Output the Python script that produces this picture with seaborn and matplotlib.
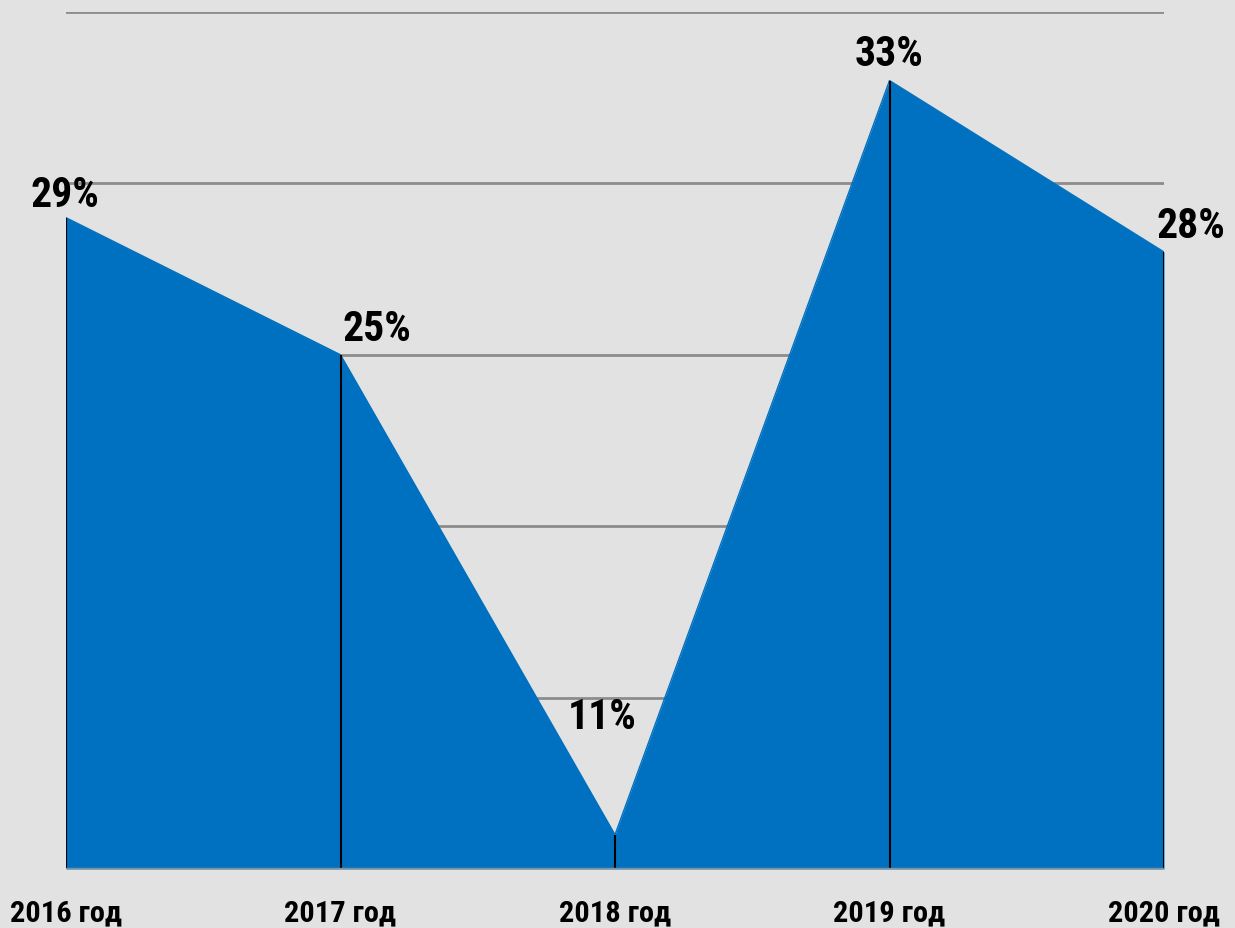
import matplotlib
matplotlib.use('Agg')
import matplotlib.pyplot as plt
import seaborn as sns
import pandas as pd
from matplotlib import font_manager
from matplotlib.ft2font import FT2Font

years = ['2016 год', '2017 год', '2018 год', '2019 год', '2020 год']
values = [29, 25, 11, 33, 28]
labels = ['29%', '25%', '11%', '33%', '28%']
# label offsets in pixels (dx, dy) relative to each point
label_offsets = [(-1, 23), (36, 26), (-13, 118), (0, 27), (27, 26)]

sns.set_style('white')


def pick_font(candidates):
    # first narrow family that has a bold face with Cyrillic glyphs
    for fam in candidates:
        for f in font_manager.fontManager.ttflist:
            if f.name != fam:
                continue
            w = f.weight if isinstance(f.weight, int) else 700 * (f.weight == 'bold')
            if w < 700:
                continue
            try:
                if ord('г') in FT2Font(f.fname).get_charmap():
                    return fam
            except Exception:
                pass
    return 'Liberation Sans'


main_font = pick_font(['Liberation Sans Narrow', 'Arial Narrow', 'Roboto Condensed',
                       'IBM Plex Sans Condensed', 'Open Sans Condensed',
                       'Archivo Narrow', 'PT Sans Narrow'])
plt.rcParams['font.family'] = [main_font, 'DejaVu Sans']

bg = '#e2e2e2'
fill = '#0070c0'
grid = '#8c8c8c'

df = pd.DataFrame({'year': years, 'value': values})
df['pos'] = range(len(df))

fig = plt.figure(figsize=(12.35, 9.29), dpi=100, facecolor=bg)
ax = fig.add_axes([66 / 1235, 59 / 929, 1098 / 1235, 857 / 929])
ax.set_facecolor(bg)


def fit_size(text, target_px, base=20):
    # scale font size so the bold text is about target_px wide
    t = fig.text(0, 0, text, fontsize=base, fontweight='bold')
    w = t.get_window_extent(renderer=fig.canvas.get_renderer()).width
    t.remove()
    return base * target_px / w


label_fs = min(fit_size('29%', 69), 30)
tick_fs = min(fit_size('2016 год', 112), 22)

ymin, ymax = 10, 35
for g in [15, 20, 25, 30, 35]:
    ax.axhline(g, color=grid, lw=2, zorder=1)

ax.fill_between(df['pos'], ymin, df['value'], color=fill, lw=0, zorder=2)
sns.lineplot(data=df, x='pos', y='value', color=fill, lw=1, ax=ax, zorder=3)
ax.vlines(df['pos'], ymin, df['value'], color='black', lw=1.5, zorder=4)
ax.axhline(ymin, color=grid, lw=2.5, zorder=5)

for (x, y, lab, (dx, dy)) in zip(df['pos'], df['value'], labels, label_offsets):
    ax.annotate(lab, (x, y), xytext=(dx, dy), textcoords='offset pixels',
                ha='center', va='center', fontsize=label_fs, fontweight='bold',
                color='black', annotation_clip=False, zorder=6)

ax.set_xlim(0, len(df) - 1)
ax.set_ylim(ymin, ymax)
ax.set_xticks(df['pos'])
ax.set_xticklabels(years, fontsize=tick_fs, fontweight='bold', color='black')
ax.tick_params(axis='x', length=0, pad=21)
ax.set_yticks([])
ax.set_xlabel('')
ax.set_ylabel('')
for s in ax.spines.values():
    s.set_visible(False)

fig.savefig('out.png', dpi=100, facecolor=bg)
